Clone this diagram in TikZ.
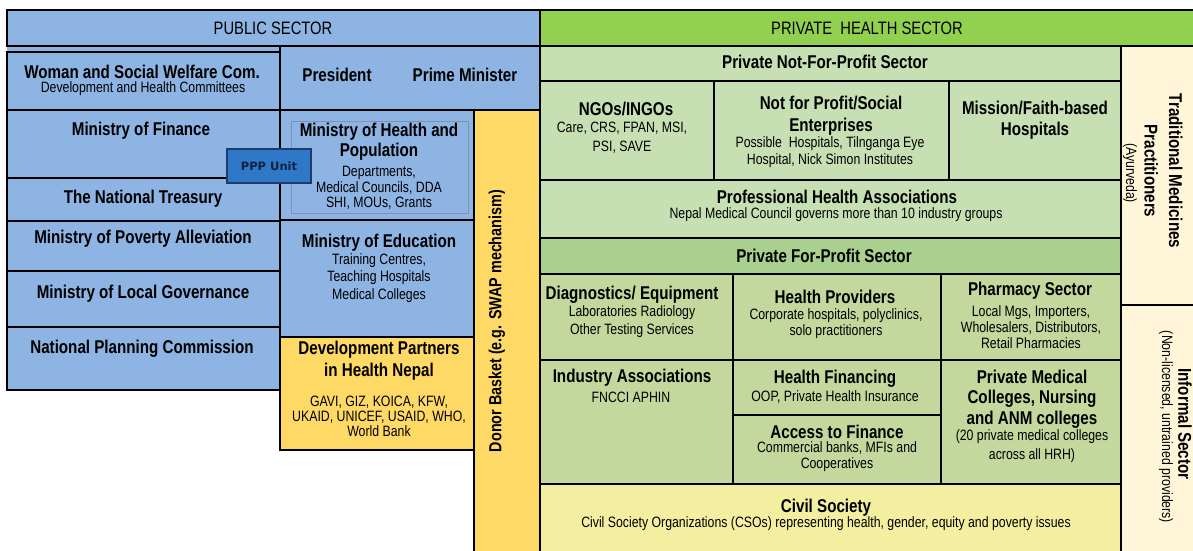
\documentclass[tikz,border=0pt]{standalone}
\usepackage{fontspec}
\setmainfont{Liberation Sans}[FakeStretch=0.82]
\newfontfamily\pppfont{DejaVu Sans}
\usetikzlibrary{fit}
\definecolor{pubblue}{HTML}{8EB4E3}
\definecolor{privgreen}{HTML}{92D050}
\definecolor{nfpgreen}{HTML}{C6E0B4}
\definecolor{fphdr}{HTML}{A9D08E}
\definecolor{fpbox}{HTML}{C4D89E}
\definecolor{civil}{HTML}{F4EFA0}
\definecolor{cream}{HTML}{FFF6DA}
\definecolor{donor}{HTML}{FFD966}
\definecolor{pppblue}{HTML}{2F78C8}
\definecolor{pppbord}{HTML}{1F3A6E}
\definecolor{ppptext}{HTML}{14213D}
\definecolor{innerline}{HTML}{7D93B0}
\begin{document}
\begin{tikzpicture}[x=1pt,y=-1pt,
  bx/.style={draw=black, line width=2pt, inner sep=0pt, fit={#1}},
  ttl/.style={font=\bfseries\fontsize{18.5}{21}\selectfont, align=center, inner sep=0pt},
  sub/.style={font=\fontsize{15}{16.5}\selectfont, align=center, inner sep=0pt},
  hdr/.style={font=\fontsize{18}{21}\selectfont, inner sep=0pt}]
\useasboundingbox (0,0) rectangle (1193,550);
\clip (0,0) rectangle (1193,550);
% ---------------- public sector ----------------
\fill[pubblue] (7,10) rectangle (280,110);
\node[bx={(7,10) (540,46)}, fill=pubblue] (pubhdr) {};
\node[bx={(7,52) (280,110)}, fill=pubblue] (woman) {};
\node[bx={(280,46) (540,110)}, fill=pubblue] (pres) {};
\node[bx={(7,110) (280,178)}, fill=pubblue] (mof) {};
\node[bx={(7,178) (280,221)}, fill=pubblue] (treas) {};
\node[bx={(7,221) (280,271)}, fill=pubblue] (mopa) {};
\node[bx={(7,271) (280,327)}, fill=pubblue] (molg) {};
\node[bx={(7,327) (280,390)}, fill=pubblue] (npc) {};
\node[bx={(280,110) (474,220)}, fill=pubblue] (mohp) {};
\node[draw=innerline, line width=0.8pt, inner sep=0pt, fit={(291,121) (468,213)}] (mohpin) {};
\node[bx={(280,220) (474,337)}, fill=pubblue] (moe) {};
\node[bx={(280,337) (474,450)}, fill=donor] (dev) {};
\node[bx={(474,110) (540,552)}, fill=donor] (donorbox) {};
% ---------------- private sector ----------------
\node[bx={(540,10) (1196,46)}, fill=privgreen] (privhdr) {};
\node[bx={(540,46) (1121,81)}, fill=nfpgreen] (nfphdr) {};
\node[bx={(540,81) (714,180)}, fill=nfpgreen] (ngo) {};
\node[bx={(714,81) (949,180)}, fill=nfpgreen] (nfpse) {};
\node[bx={(949,81) (1121,180)}, fill=nfpgreen] (mission) {};
\node[bx={(540,180) (1121,238)}, fill=nfpgreen] (prof) {};
\node[bx={(540,238) (1121,274)}, fill=fphdr] (fphead) {};
\node[bx={(540,274) (733,360)}, fill=fpbox] (diag) {};
\node[bx={(733,274) (941,360)}, fill=fpbox] (hprov) {};
\node[bx={(941,274) (1121,360)}, fill=fpbox] (pharm) {};
\node[bx={(540,360) (733,484)}, fill=fpbox] (indus) {};
\node[bx={(733,360) (941,415)}, fill=fpbox] (hfin) {};
\node[bx={(733,415) (941,484)}, fill=fpbox] (afin) {};
\node[bx={(941,360) (1121,484)}, fill=fpbox] (pmc) {};
\node[bx={(540,484) (1121,552)}, fill=civil] (civ) {};
\node[bx={(1121,46) (1196,305)}, fill=cream] (trad) {};
\node[bx={(1121,305) (1196,552)}, fill=cream] (inf) {};
% PPP unit
\node[draw=pppbord, fill=pppblue, line width=1.5pt, minimum width=84pt, minimum height=34pt,
      font=\pppfont\bfseries\fontsize{11.5}{13}\selectfont, text=ppptext] (ppp) at (269,166) {PPP Unit};
% ---------------- texts: public ----------------
\node[hdr] (pubt) at (273,28) {PUBLIC SECTOR};
\node[ttl] (womant) at (142,72) {Woman and Social Welfare Com.};
\node[sub] (womans) at (143,89) {Development and Health Committees};
\node[ttl] (prest) at (337,75) {President};
\node[ttl] (pmt) at (465,75) {Prime Minister};
\node[ttl] (moft) at (141,131) {Ministry of Finance};
\node[ttl] (treast) at (143,199) {The National Treasury};
\node[ttl] (mopat) at (143,239) {Ministry of Poverty Alleviation};
\node[ttl] (molgt) at (143,294) {Ministry of Local Governance};
\node[ttl] (npct) at (142,349) {National Planning Commission};
\node[ttl, font=\bfseries\fontsize{18.5}{20}\selectfont] (mohpt) at (379,142) {Ministry of Health and\\Population};
\node[sub, font=\fontsize{15}{15.5}\selectfont] (mohps) at (379,188) {Departments,\\Medical Councils, DDA\\SHI, MOUs, Grants};
\node[ttl] (moet) at (379,243) {Ministry of Education};
\node[sub, font=\fontsize{15}{17.5}\selectfont] (moes) at (379,278) {Training Centres,\\Teaching Hospitals\\Medical Colleges};
\node[ttl, font=\bfseries\fontsize{18.5}{22}\selectfont] (devt) at (379,361) {Development Partners\\in Health Nepal};
\node[sub, font=\fontsize{15}{15}\selectfont] (devs) at (379,416) {GAVI, GIZ, KOICA, KFW,\\UKAID, UNICEF, USAID, WHO,\\World Bank};
\node[ttl, font=\bfseries\fontsize{17.5}{20}\selectfont, rotate=90] (donort) at (497,321) {Donor Basket (e.g. SWAP mechanism)};
% ---------------- texts: private ----------------
\node[hdr] (privt) at (867,28) {PRIVATE\ \ HEALTH SECTOR};
\node[ttl] (nfpt) at (825,62) {Private Not-For-Profit Sector};
\node[ttl] (ngot) at (626,109) {NGOs/INGOs};
\node[sub, font=\fontsize{15}{18.5}\selectfont] (ngos) at (622,137.5) {Care, CRS, FPAN, MSI,\\PSI, SAVE};
\node[ttl, font=\bfseries\fontsize{18.5}{22}\selectfont] (nfpset) at (831,116) {Not for Profit/Social\\Enterprises};
\node[sub, font=\fontsize{15}{17.5}\selectfont] (nfpses) at (830,152) {Possible\ \ Hospitals, Tilnganga Eye\\Hospital, Nick Simon Institutes};
\node[ttl] (missiont) at (1035,120) {Mission/Faith-based\\Hospitals};
\node[ttl] (proft) at (837,197) {Professional Health Associations};
\node[sub] (profs) at (836,215) {Nepal Medical Council governs more than 10 industry groups};
\node[ttl] (fpt) at (824,256) {Private For-Profit Sector};
\node[ttl] (diagt) at (632,295) {Diagnostics/ Equipment};
\node[sub, font=\fontsize{15}{18}\selectfont] (diags) at (632,322) {Laboratories Radiology\\Other Testing Services};
\node[ttl] (hprovt) at (835,297) {Health Providers};
\node[sub, font=\fontsize{15}{15.5}\selectfont] (hprovs) at (836,323.5) {Corporate hospitals, polyclinics,\\solo practitioners};
\node[ttl] (pharmt) at (1030,291) {Pharmacy Sector};
\node[sub, font=\fontsize{15}{16}\selectfont] (pharms) at (1031,327) {Local Mgs, Importers,\\Wholesalers, Distributors,\\Retail Pharmacies};
\node[ttl] (indust) at (632,378) {Industry Associations};
\node[sub] (induss) at (631,397) {FNCCI APHIN};
\node[ttl] (hfint) at (835,379) {Health Financing};
\node[sub] (hfins) at (835,397) {OOP, Private Health Insurance};
\node[ttl] (afint) at (837,432) {Access to Finance};
\node[sub, font=\fontsize{15}{15.5}\selectfont] (afins) at (837,456.5) {Commercial banks, MFIs and\\Cooperatives};
\node[ttl, font=\bfseries\fontsize{18.5}{20.5}\selectfont] (pmct) at (1032,399) {Private Medical\\Colleges, Nursing\\and ANM colleges};
\node[sub, font=\fontsize{15}{19}\selectfont] (pmcs) at (1032,446.5) {(20 private medical colleges\\across all HRH)};
\node[ttl] (civt) at (826,508) {Civil Society};
\node[sub] (civs) at (826,524) {Civil Society Organizations (CSOs) representing health, gender, equity and poverty issues};
\node[ttl, font=\bfseries\fontsize{18.5}{24.5}\selectfont, rotate=-90] (tradt) at (1163.5,171) {Traditional Medicines\\Practitioners};
\node[sub, rotate=-90] (trads) at (1130,173) {(Ayurveda)};
\node[ttl, rotate=-90] (inft) at (1185,424) {Informal Sector};
\node[sub, rotate=-90] (infs) at (1166,427) {(Non-licensed, untrained providers)};
\end{tikzpicture}
\end{document}
